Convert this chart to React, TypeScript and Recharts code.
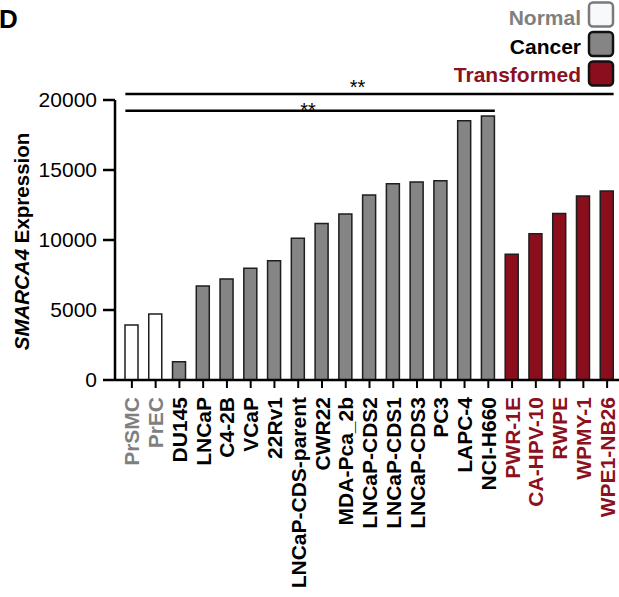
import React from 'react';
import { BarChart, Bar, XAxis, YAxis, Cell, ReferenceLine } from 'recharts';

const cellLines = [
  'PrSMC', 'PrEC', 'DU145', 'LNCaP', 'C4-2B', 'VCaP', '22Rv1', 'LNCaP-CDS-parent',
  'CWR22', 'MDA-Pca_2b', 'LNCaP-CDS2', 'LNCaP-CDS1', 'LNCaP-CDS3', 'PC3', 'LAPC-4',
  'NCI-H660', 'PWR-1E', 'CA-HPV-10', 'RWPE', 'WPMY-1', 'WPE1-NB26',
];
const expression = [
  3930, 4710, 1310, 6710, 7210, 7980, 8520, 10120, 11170, 11860, 13210, 14020,
  14140, 14240, 18520, 18860, 8980, 10450, 11900, 13140, 13500,
];
const groups = [
  'Normal', 'Normal',
  'Cancer', 'Cancer', 'Cancer', 'Cancer', 'Cancer', 'Cancer', 'Cancer', 'Cancer',
  'Cancer', 'Cancer', 'Cancer', 'Cancer', 'Cancer', 'Cancer',
  'Transformed', 'Transformed', 'Transformed', 'Transformed', 'Transformed',
];
const legendNames = ['Normal', 'Cancer', 'Transformed'];
const yTicks = [0, 5000, 10000, 15000, 20000];

// significance brackets
const sigFrom = ['PrSMC', 'PrSMC'];
const sigTo = ['WPE1-NB26', 'NCI-H660'];
const sigLevel = [20430, 19240];
const sigText = ['**', '**'];

const FONT = '"Liberation Sans", Arial, Helvetica, sans-serif';
const BAR = 13;
const starDx = [-12, -2];
const starDy = [0, 6];

const palette: Record<string, { fill: string; text: string; box: string }> = {
  Normal: { fill: '#ffffff', text: '#7f7f7f', box: '#7a7a7a' },
  Cancer: { fill: '#858585', text: '#000000', box: '#111111' },
  Transformed: { fill: '#8a0e1c', text: '#8d1020', box: '#111111' },
};

const data = cellLines.map((name, i) => ({ name, value: expression[i], group: groups[i] }));

const XTick = (props: any) => {
  const { x, y, payload } = props;
  const g = groups[cellLines.indexOf(payload.value)];
  return (
    <g transform={`translate(${x},${y})`}>
      <text
        transform="rotate(-90)"
        textAnchor="end"
        dy="0.36em"
        fontSize={21}
        fontWeight="bold"
        fontFamily={FONT}
        fill={palette[g].text}
      >
        {payload.value}
      </text>
    </g>
  );
};

const YLabel = (props: any) => {
  const vb = props.viewBox || { x: 0, y: 100, width: 115, height: 280 };
  const cx = vb.x + 29;
  const cy = vb.y + vb.height / 2 + 1.5;
  return (
    <text
      x={cx}
      y={cy}
      transform={`rotate(-90, ${cx}, ${cy})`}
      textAnchor="middle"
      fontSize={20.5}
      fontWeight="bold"
      fontFamily={FONT}
      fill="#000"
    >
      <tspan fontStyle="italic">SMARCA4</tspan> Expression
    </text>
  );
};

const bracket = (i: number) => (p: any) => {
  const x1 = p.x1 - BAR / 2;
  const x2 = p.x2 + BAR / 2;
  return (
    <g>
      <line x1={x1} y1={p.y1} x2={x2} y2={p.y2} stroke="#000" strokeWidth={2.5} />
      <text
        x={(x1 + x2) / 2 + starDx[i]}
        y={p.y1 + starDy[i]}
        textAnchor="middle"
        fontSize={20}
        fontFamily={FONT}
        fill="#000"
      >
        {sigText[i]}
      </text>
    </g>
  );
};

export default function App() {
  return (
    <div style={{ position: 'absolute', left: 0, top: 0, width: 619, height: 597, background: '#fff' }}>
      <BarChart
        width={619}
        height={597}
        data={data}
        margin={{ top: 100, right: 0, left: 0, bottom: 0 }}
        barCategoryGap={0}
      >
        <XAxis
          dataKey="name"
          type="category"
          interval={0}
          height={217}
          padding={{ left: 5, right: 0 }}
          axisLine={{ stroke: '#000', strokeWidth: 2.5 }}
          tickLine={{ stroke: '#000', strokeWidth: 2 }}
          tickSize={8}
          tickMargin={9}
          tick={<XTick />}
        />
        <YAxis
          type="number"
          domain={[0, 20000]}
          ticks={yTicks}
          width={115}
          axisLine={{ stroke: '#000', strokeWidth: 2.5 }}
          tickLine={{ stroke: '#000', strokeWidth: 2.5 }}
          tickSize={12}
          tickMargin={6}
          tick={{ fontSize: 21, fill: '#000', fontFamily: FONT }}
          label={{ content: <YLabel /> }}
        />
        {sigText.map((t, i) => (
          <ReferenceLine
            key={`sig-${i}`}
            ifOverflow="visible"
            segment={[
              { x: sigFrom[i], y: sigLevel[i] },
              { x: sigTo[i], y: sigLevel[i] },
            ]}
            shape={bracket(i)}
          />
        ))}
        <Bar dataKey="value" barSize={BAR} stroke="#1e1e1e" strokeWidth={1.5} isAnimationActive={false}>
          {data.map((d, i) => (
            <Cell key={`c-${i}`} fill={palette[d.group].fill} />
          ))}
        </Bar>
      </BarChart>
      <svg
        width={619}
        height={100}
        style={{ position: 'absolute', left: 0, top: 0, pointerEvents: 'none' }}
      >
        <text x={-1} y={28} fontSize={26} fontWeight="bold" fontFamily={FONT} fill="#000">
          D
        </text>
        {legendNames.map((n, i) => (
          <g key={n}>
            <text
              x={581}
              y={25 + i * 28.5}
              textAnchor="end"
              fontSize={21}
              fontWeight="bold"
              fontFamily={FONT}
              fill={palette[n].text}
            >
              {n}
            </text>
            <rect
              x={589}
              y={2.5 + i * 29.5}
              width={24}
              height={24}
              rx={4}
              fill={n === 'Normal' ? '#f8f9fb' : palette[n].fill}
              stroke={palette[n].box}
              strokeWidth={2.5}
            />
          </g>
        ))}
      </svg>
    </div>
  );
}
